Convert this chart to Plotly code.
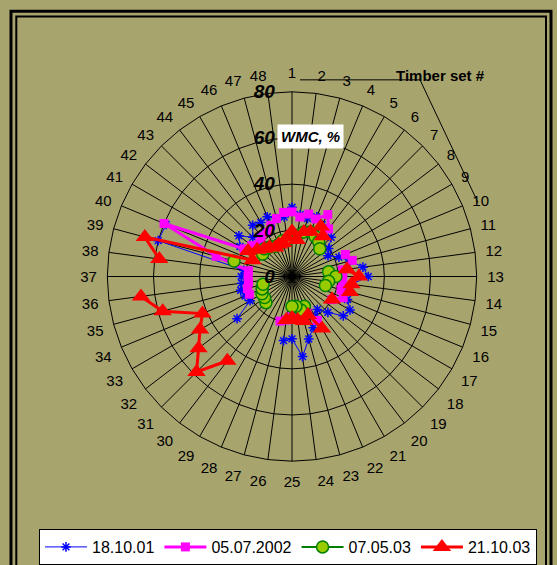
import plotly.graph_objects as go

# Timber set numbers around the dial
timber_sets = [str(i) for i in range(1, 49)]

# Wood moisture content (WMC, %) per timber set for each survey date; None = not measured
wmc_181001 = [30, 27, 26, 28, 26, 22, 24, 20, 18, 22, 26, 31,
              33, 26, 24, 26, 29, 28, 22, 18, 20, 24, 28, 35,
              27, 28, None, None, None, None, None, 30, 21, 22, 23, 22,
              22, 21, 60, 59, 26, 29, 24, 28, 27, 28, 26, 26]
wmc_050702 = [28, 26, 28, 27, 31, 26, None, None, None, 25, 27, 22,
              22, 22, 22, 24, 20, None, None, None, 22, 17, 19, 18,
              17, 19, 20, None, None, None, None, None, None, 20, 20, 19,
              19, 19, 34, 60, 24, 22, 20, 22, 22, 24, 26, 28]
wmc_070503 = [17, 18, 20, 21, 20, 19, 17, None, None, None, None, 16,
              19, 16, 15, None, None, None, None, None, None, 14, 15, 13,
              13, None, None, None, None, None, 16, 15, 15, 14, 13, None,
              None, None, 26, None, 18, 16, 17, 16, 15, 15, 16, 16]
wmc_211003 = [19.5, 16, 20, 21, 25, 22, None, None, None, None, None, 24,
              29, 26, 26, None, 20, None, None, None, 26, 18, 20, 19,
              18, 19, None, None, None, 46, 58.5, 51, 46, 42, 58, 66,
              None, 58, 66, 18.5, 22, 19, 17, 16, 14.5, 15, 15, 17]

radial_ticks = [0, 20, 40, 60, 80]
dates = ["18.10.01", "05.07.2002", "07.05.03", "21.10.03"]

W, H = 557, 565
BG = "#A8A46E"
FONT = "Arial, Liberation Sans, sans-serif"


def px(x):
    return x / W


def py(y):
    return 1 - y / H


fig = go.Figure()

fig.add_trace(go.Scatterpolar(
    r=wmc_181001, theta=timber_sets, name=dates[0], mode="lines+markers",
    line=dict(color="#0000FF", width=1),
    marker=dict(symbol="asterisk-open", size=8, color="#0000FF",
                line=dict(color="#0000FF", width=1.5)),
    connectgaps=False))

fig.add_trace(go.Scatterpolar(
    r=wmc_050702, theta=timber_sets, name=dates[1], mode="lines+markers",
    line=dict(color="#FF00FF", width=3),
    marker=dict(symbol="square", size=9, color="#FF00FF"),
    connectgaps=False))

fig.add_trace(go.Scatterpolar(
    r=wmc_070503, theta=timber_sets, name=dates[2], mode="lines+markers",
    line=dict(color="#008000", width=2),
    marker=dict(symbol="circle", size=12, color="#99CC00",
                line=dict(color="#008000", width=1.5)),
    connectgaps=False))

fig.add_trace(go.Scatterpolar(
    r=wmc_211003, theta=timber_sets, name=dates[3], mode="lines+markers",
    line=dict(color="#FF0000", width=3),
    marker=dict(symbol="triangle-up", size=16, color="#FF0000"),
    connectgaps=False))

cx, cy, R = 292, 277, 185

fig.update_layout(
    width=W, height=H,
    margin=dict(l=0, r=0, t=0, b=0),
    paper_bgcolor=BG, plot_bgcolor=BG,
    font=dict(family=FONT, color="black"),
    polar=dict(
        domain=dict(x=[px(cx - R), px(cx + R)], y=[py(cy + R), py(cy - R)]),
        bgcolor=BG,
        gridshape="linear",
        angularaxis=dict(
            type="category", categoryorder="array", categoryarray=timber_sets,
            direction="clockwise", rotation=90,
            showline=True, linecolor="black", linewidth=1,
            gridcolor="black", gridwidth=1,
            ticks="outside", ticklen=7, tickcolor="rgba(0,0,0,0)",
            tickfont=dict(size=15, family=FONT, color="black"),
        ),
        radialaxis=dict(
            range=[0, 80], tickvals=radial_ticks, ticktext=[str(v) for v in radial_ticks],
            angle=90, tickangle=90, side="counterclockwise",
            showline=False, ticks="outside", ticklen=10, tickcolor="rgba(0,0,0,0)",
            gridcolor="black", gridwidth=1,
            tickfont=dict(size=19, family=FONT, color="black", weight="bold", style="italic"),
        ),
    ),
    showlegend=True,
    legend=dict(
        orientation="h", x=px(288), xanchor="center", y=py(530), yanchor="top",
        bgcolor="white", bordercolor="black", borderwidth=1,
        font=dict(size=16, family=FONT, color="black"),
        itemwidth=42, tracegroupgap=0,
    ),
    shapes=[
        # double frame
        dict(type="rect", xref="paper", yref="paper",
             x0=px(11), x1=px(551), y0=py(580), y1=py(11.3),
             line=dict(color="black", width=3)),
        dict(type="rect", xref="paper", yref="paper",
             x0=px(16.3), x1=px(546), y0=py(575), y1=py(16.6),
             line=dict(color="black", width=2)),
        # leader line for the category axis title
        dict(type="line", xref="paper", yref="paper",
             x0=px(300), x1=px(420), y0=py(80), y1=py(80),
             line=dict(color="black", width=1)),
        dict(type="line", xref="paper", yref="paper",
             x0=px(420), x1=px(478), y0=py(80), y1=py(203),
             line=dict(color="black", width=1)),
    ],
    annotations=[
        dict(text="Timber set #", xref="paper", yref="paper",
             x=px(440), y=py(76), xanchor="center", yanchor="middle", showarrow=False,
             font=dict(size=15, family=FONT, color="black", weight="bold")),
        dict(text="WMC, %", xref="paper", yref="paper",
             x=px(310), y=py(137), xanchor="center", yanchor="middle",
             showarrow=False, bgcolor="white", borderpad=3,
             font=dict(size=15, family=FONT, color="black", weight="bold", style="italic")),
    ],
)

fig.write_html("out.html")
